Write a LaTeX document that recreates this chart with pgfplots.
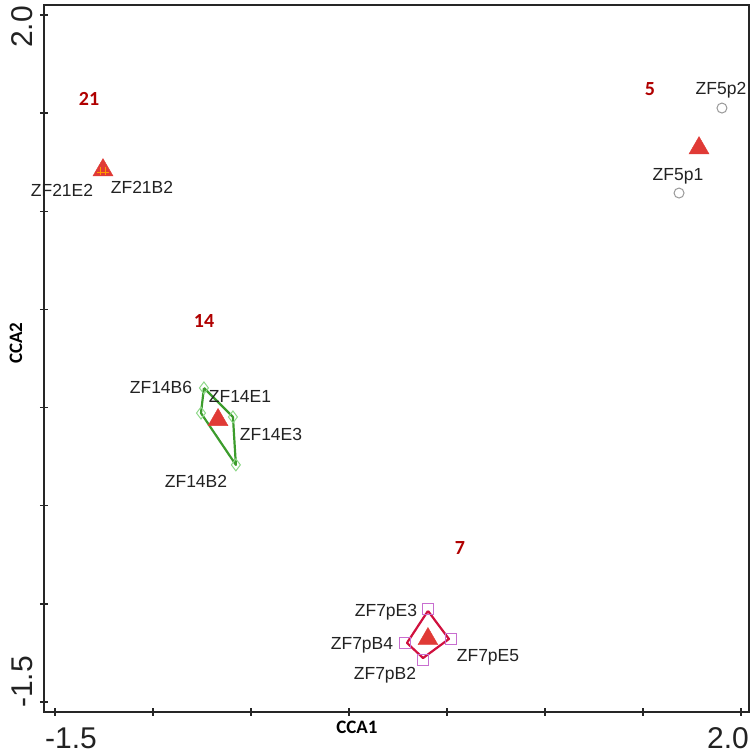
\documentclass[border=0pt]{standalone}
\usepackage{pgfplots}
\pgfplotsset{compat=1.18}
\usepackage{fontspec}
\setmainfont{Liberation Sans}
\newfontfamily\carlito{Carlito}
\definecolor{tri}{HTML}{E03A36}
\definecolor{grn}{HTML}{3C9C2C}
\definecolor{lgrn}{HTML}{8FD88A}
\definecolor{crim}{HTML}{D0103E}
\definecolor{mag}{HTML}{C86ED0}
\definecolor{grp}{HTML}{B00000}
\definecolor{lab}{HTML}{222222}
\begin{document}
\begin{tikzpicture}
\useasboundingbox (-44pt,-43pt) rectangle (712pt,712pt);
\begin{axis}[
  scale only axis, width=705pt, height=707pt,
  xmin=-1.556, xmax=2.041, ymin=-1.551, ymax=2.051,
  xtick={-1.5,-1,-0.5,0,0.5,1,1.5,2}, ytick={-1.5,-1,-0.5,0,0.5,1,1.5,2},
  xticklabels={}, yticklabels={},
  tick pos=left, tick align=center, major tick length=8pt,
  axis line style={line width=1.6pt, black!85},
  every tick/.style={line width=1.4pt, black!85},
  clip=false,
]
% hulls
\addplot[draw=grn, line width=2.2pt, no marks, line join=round] coordinates {(-0.740,0.100) (-0.592,-0.048) (-0.577,-0.292) (-0.755,-0.028) (-0.740,0.100)};
\addplot[draw=crim, line width=2.2pt, no marks, line join=round] coordinates {(0.403,-1.036) (0.510,-1.179) (0.378,-1.276) (0.296,-1.199) (0.403,-1.036)};
% samples
\addplot[only marks, mark=o, mark size=5pt, draw=gray!80, line width=1pt] coordinates {(1.903,1.526) (1.684,1.093)};
\addplot[only marks, mark=diamond, mark size=6pt, draw=lgrn, line width=1pt] coordinates {(-0.740,0.100) (-0.592,-0.048) (-0.577,-0.292) (-0.755,-0.028)};
\addplot[only marks, mark=square, mark size=5.5pt, draw=mag, line width=1pt] coordinates {(0.403,-1.026) (0.520,-1.179) (0.378,-1.286) (0.286,-1.199)};
% centroids
\addplot[only marks, mark=triangle*, mark size=11.5pt, fill=tri, draw=tri] coordinates {(-1.255,1.210) (1.786,1.322) (-0.668,-0.063) (0.403,-1.179)};
\addplot[only marks, mark=|, mark size=4pt, draw=orange!80!yellow, line width=1pt] coordinates {(-1.268,1.205) (-1.242,1.205)};
\addplot[only marks, mark=-, mark size=6pt, draw=orange!80!yellow, line width=1pt] coordinates {(-1.255,1.200)};
\end{axis}
% tick labels
\begin{scope}[every node/.style={font=\fontsize{30}{30}\selectfont, text=lab}]
\node[rotate=90] at (-22pt,685pt) {2.0};
\node[rotate=90] at (-22pt,30pt) {-1.5};
\node at (27pt,-26pt) {-1.5};
\node at (684pt,-26pt) {2.0};
\end{scope}
% axis titles
\node[font=\carlito\bfseries\fontsize{19}{19}\selectfont, rotate=90] at (-28pt,369pt) {CCA2};
\node[font=\carlito\bfseries\fontsize{19}{19}\selectfont] at (313pt,-15pt) {CCA1};
% group numbers
\begin{scope}[every node/.style={font=\carlito\bfseries\fontsize{20}{20}\selectfont, text=grp}]
\node at (45pt,613pt) {21};
\node at (606pt,623pt) {5};
\node at (160pt,391pt) {14};
\node at (416pt,164pt) {7};
\end{scope}
% sample labels
\begin{scope}[every node/.style={font=\fontsize{17.5}{17.5}\selectfont, text=lab, inner sep=0pt}]
\node at (18pt,522pt) {ZF21E2};
\node at (98pt,525pt) {ZF21B2};
\node at (677pt,622pt) {ZF5p2};
\node at (634pt,536pt) {ZF5p1};
\node at (117pt,325pt) {ZF14B6};
\node at (196pt,316pt) {ZF14E1};
\node at (227pt,278pt) {ZF14E3};
\node at (152pt,231pt) {ZF14B2};
\node at (342pt,100pt) {ZF7pE3};
\node at (318pt,67pt) {ZF7pB4};
\node at (444pt,55pt) {ZF7pE5};
\node at (341pt,37pt) {ZF7pB2};
\end{scope}
\end{tikzpicture}
\end{document}
